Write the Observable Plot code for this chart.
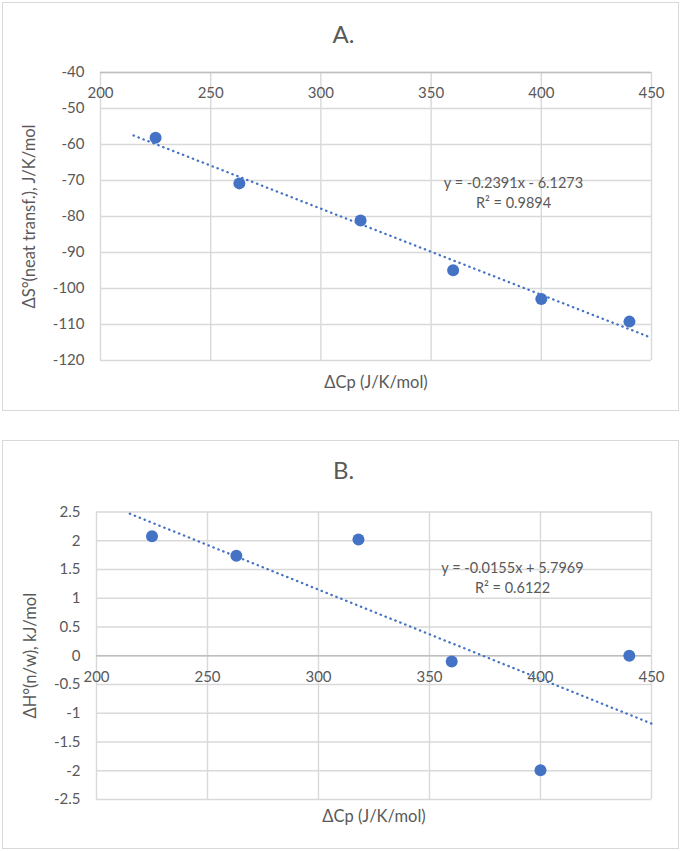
<!DOCTYPE html>
<html><head><meta charset="utf-8">
<script src="https://cdn.jsdelivr.net/npm/d3@7"></script>
<script src="https://cdn.jsdelivr.net/npm/@observablehq/plot@0.6"></script>
<style>
body{margin:0;background:#fff;width:685px;height:851px;position:relative;overflow:hidden;font-family:Lato,sans-serif}
.frame{position:absolute;border:1.5px solid #d9d9d9;box-sizing:border-box}
.panel{position:absolute;left:0}
</style></head><body>
<div class="frame" style="left:2px;top:2px;width:677px;height:409px"></div>
<div class="frame" style="left:2px;top:440px;width:677px;height:409px"></div>
<div id="a" class="panel" style="top:0"></div>
<div id="b" class="panel" style="top:430px"></div>
<script>
// ---- data ----
const dCp = [225, 263, 318, 360, 400, 440];
const dS = [-58.1, -70.8, -81.1, -94.9, -102.9, -109.2];
const dH = [2.08, 1.74, 2.02, -0.10, -1.99, 0.00];
const trendX = [215, 450];
const trendS = [-57.5, -113.7];
const trendH = [2.47, -1.18];
const xTicks = [200, 250, 300, 350, 400, 450];
const yTicksS = [-40, -50, -60, -70, -80, -90, -100, -110, -120];
const yTicksH = [2.5, 2, 1.5, 1, 0.5, 0, -0.5, -1, -1.5, -2, -2.5];
const eqS = ["y = -0.2391x - 6.1273", "R² = 0.9894"];
const eqH = ["y = -0.0155x + 5.7969", "R² = 0.6122"];
const titleS = "A.", titleH = "B.";
const xLabel = "ΔCp (J/K/mol)";
const yLabelS = "ΔS°(neat transf.), J/K/mol";
const yLabelH = "ΔH°(n/w), kJ/mol";

const BLUE = "#4472C4", GRID = "#d9d9d9", AXIS = "#bfbfbf", TEXT = "#595959";

function panel(o) {
  const pts = dCp.map((x, i) => ({x, y: o.ys[i]}));
  const trend = trendX.map((x, i) => ({x, y: o.trend[i]}));
  return Plot.plot({
    width: 685,
    height: o.height,
    marginLeft: o.ml, marginRight: 34, marginTop: o.mt, marginBottom: o.mb,
    style: {fontFamily: "Lato, sans-serif", fontSize: "15px", color: TEXT, background: "transparent", overflow: "visible"},
    x: {domain: [200, 450]},
    y: {domain: o.yDomain},
    marks: [
      Plot.gridX(xTicks, {stroke: GRID, strokeOpacity: 1, strokeWidth: 1.4}),
      Plot.gridY(o.yTicks, {stroke: GRID, strokeOpacity: 1, strokeWidth: 1.4}),
      Plot.ruleY([o.axisAt], {stroke: AXIS, strokeWidth: 1.4}),
      Plot.axisY({ticks: o.yTicks, tickSize: 0, tickPadding: 16, tickFormat: d => String(d), label: null, fontSize: 15}),
      Plot.axisX({anchor: o.xAnchor, ticks: xTicks, tickSize: 0, tickPadding: o.xPad, lineAnchor: "middle", tickFormat: d => String(d), label: null, fontSize: 15}),
      Plot.line(trend, {x: "x", y: "y", stroke: BLUE, strokeWidth: 2.3, strokeDasharray: "0.4,4.9", strokeLinecap: "round"}),
      Plot.dot(pts, {x: "x", y: "y", r: 6, fill: BLUE, stroke: "none"}),
      Plot.text([o.eq.join("\n")], {frameAnchor: "top-left", dx: o.eqDx, dy: o.eqDy, textAnchor: "middle", lineAnchor: "middle", lineHeight: 1.35, fontSize: 14.5, fill: TEXT}),
      Plot.text([o.title], {frameAnchor: "top", dx: o.titleDx, dy: o.titleDy, textAnchor: "middle", lineAnchor: "middle", fontSize: 24, fill: TEXT}),
      Plot.text([xLabel], {frameAnchor: "bottom", dy: o.xlDy, textAnchor: "middle", lineAnchor: "middle", fontSize: 16.5, fill: TEXT}),
      Plot.text([o.yLabel], {frameAnchor: "left", dx: o.ylDx, rotate: -90, textAnchor: "middle", lineAnchor: "middle", fontSize: 16.5, fill: TEXT})
    ]
  });
}

document.getElementById("a").append(panel({
  ys: dS, trend: trendS, yDomain: [-120, -40], yTicks: yTicksS, axisAt: -40,
  height: 425, ml: 100, mt: 72, mb: 65,
  xAnchor: "top", xPad: -21,
  eq: eqS, eqDx: 413, eqDy: 119.5,
  title: titleS, titleDx: -32.5, titleDy: -37.5,
  xlDy: 22, yLabel: yLabelS, ylDx: -71
}));

document.getElementById("b").append(panel({
  ys: dH, trend: trendH, yDomain: [-2.5, 2.5], yTicks: yTicksH, axisAt: 0,
  height: 425, ml: 96, mt: 81.5, mb: 56,
  xAnchor: "bottom", xPad: -122,
  eq: eqH, eqDx: 416, eqDy: 64.5,
  title: titleH, titleDx: -30.5, titleDy: -40.5,
  xlDy: 17, yLabel: yLabelH, ylDx: -66
}));
</script>
</body></html>
